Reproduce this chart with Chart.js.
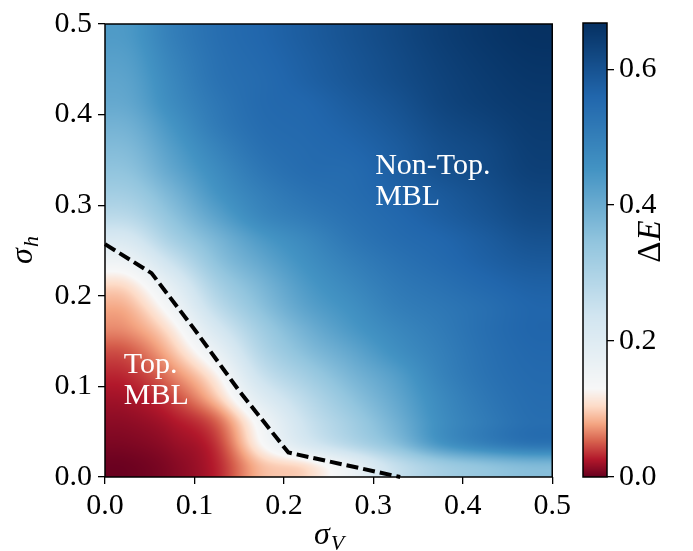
<!DOCTYPE html>
<html>
<head>
<meta charset="utf-8">
<script src="https://cdn.jsdelivr.net/npm/chart.js@4/dist/chart.umd.min.js"></script>
<style>
  html, body { margin: 0; padding: 0; background: #ffffff; }
  #wrap { position: relative; width: 693px; height: 551px; overflow: hidden; }
  #main { position: absolute; left: 0; top: 0; }
  #cbar { position: absolute; left: 575px; top: 0; }
</style>
</head>
<body>
<div id="wrap">
  <canvas id="main" width="575" height="551"></canvas>
  <canvas id="cbar" width="118" height="551"></canvas>
</div>
<script>
// Cell centres of the energy-gap map
const sigmaV = [0.025, 0.075, 0.125, 0.175, 0.225, 0.275, 0.325, 0.375, 0.425, 0.475];
const sigmaH = [0.4875, 0.4625, 0.4375, 0.4125, 0.3875, 0.3625, 0.3375, 0.3125, 0.2875, 0.2625,
                0.2375, 0.2125, 0.1875, 0.1625, 0.1375, 0.1125, 0.0875, 0.0625, 0.0375, 0.0125];

// Delta E, one row per sigmaH entry (top row first), one column per sigmaV entry
const deltaE = [
  [0.440, 0.500, 0.540, 0.560, 0.580, 0.600, 0.620, 0.640, 0.655, 0.665],
  [0.430, 0.490, 0.535, 0.555, 0.575, 0.595, 0.615, 0.635, 0.650, 0.660],
  [0.420, 0.480, 0.530, 0.550, 0.570, 0.590, 0.610, 0.630, 0.645, 0.655],
  [0.410, 0.470, 0.520, 0.550, 0.560, 0.580, 0.600, 0.625, 0.640, 0.650],
  [0.390, 0.450, 0.510, 0.545, 0.555, 0.570, 0.590, 0.615, 0.630, 0.645],
  [0.370, 0.430, 0.490, 0.535, 0.550, 0.560, 0.580, 0.605, 0.620, 0.640],
  [0.350, 0.410, 0.470, 0.520, 0.545, 0.550, 0.575, 0.600, 0.615, 0.635],
  [0.320, 0.380, 0.450, 0.500, 0.530, 0.545, 0.565, 0.585, 0.605, 0.625],
  [0.280, 0.350, 0.420, 0.480, 0.510, 0.535, 0.555, 0.575, 0.595, 0.615],
  [0.220, 0.310, 0.380, 0.440, 0.480, 0.520, 0.545, 0.560, 0.580, 0.600],
  [0.160, 0.250, 0.350, 0.410, 0.460, 0.500, 0.530, 0.550, 0.570, 0.585],
  [0.110, 0.190, 0.310, 0.380, 0.440, 0.480, 0.515, 0.535, 0.555, 0.570],
  [0.085, 0.150, 0.270, 0.355, 0.420, 0.460, 0.500, 0.520, 0.540, 0.560],
  [0.070, 0.115, 0.220, 0.320, 0.390, 0.440, 0.480, 0.510, 0.540, 0.560],
  [0.048, 0.090, 0.170, 0.290, 0.360, 0.410, 0.460, 0.500, 0.535, 0.555],
  [0.033, 0.065, 0.125, 0.250, 0.320, 0.380, 0.430, 0.490, 0.530, 0.550],
  [0.022, 0.042, 0.095, 0.200, 0.280, 0.350, 0.410, 0.475, 0.520, 0.545],
  [0.014, 0.025, 0.055, 0.150, 0.250, 0.320, 0.390, 0.465, 0.510, 0.540],
  [0.008, 0.016, 0.038, 0.130, 0.220, 0.290, 0.360, 0.450, 0.500, 0.530],
  [0.002, 0.010, 0.030, 0.090, 0.110, 0.170, 0.260, 0.320, 0.350, 0.370]
];

// Phase boundary (dashed)
const boundarySigmaV = [0.0, 0.052, 0.100, 0.150, 0.205, 0.330];
const boundarySigmaH = [0.257, 0.225, 0.163, 0.095, 0.027, 0.0];

// Axis ticks
const axisTicks = [0.0, 0.1, 0.2, 0.3, 0.4, 0.5];
const colorbarTicks = [0.0, 0.2, 0.4, 0.6];

// Colour normalisation: diverging around a centre value
const vMin = 0.0, vCenter = 0.13, vMax = 0.668;

const rdbu = ['#67001f', '#b2182b', '#d6604d', '#f4a582', '#fddbc7', '#f7f7f7',
              '#d1e5f0', '#92c5de', '#4393c3', '#2166ac', '#053061'];
const rdbuRGB = rdbu.map(h => [parseInt(h.slice(1, 3), 16), parseInt(h.slice(3, 5), 16), parseInt(h.slice(5, 7), 16)]);

function normalise(v) {
  if (v <= vCenter) return Math.max(0, 0.5 * (v - vMin) / (vCenter - vMin));
  return Math.min(1, 0.5 + 0.5 * (v - vCenter) / (vMax - vCenter));
}
function colourOf(v) {
  const p = normalise(v) * (rdbuRGB.length - 1);
  const i = Math.min(rdbuRGB.length - 2, Math.floor(p));
  const t = p - i;
  const a = rdbuRGB[i], b = rdbuRGB[i + 1];
  return [0, 1, 2].map(k => Math.round(a[k] + (b[k] - a[k]) * t));
}

// Catmull-Rom weights for bicubic resampling of the grid
function cubicWeights(t) {
  const t2 = t * t, t3 = t2 * t;
  return [
    (-t3 + 2 * t2 - t) / 2,
    (3 * t3 - 5 * t2 + 2) / 2,
    (-3 * t3 + 4 * t2 + t) / 2,
    (t3 - t2) / 2
  ];
}
function sampleGrid(fx, fy) {
  const nx = sigmaV.length, ny = sigmaH.length;
  const ix = Math.floor(fx), iy = Math.floor(fy);
  const wx = cubicWeights(fx - ix), wy = cubicWeights(fy - iy);
  let s = 0;
  for (let j = 0; j < 4; j++) {
    const r = Math.min(ny - 1, Math.max(0, iy - 1 + j));
    let row = 0;
    for (let i = 0; i < 4; i++) {
      const c = Math.min(nx - 1, Math.max(0, ix - 1 + i));
      row += wx[i] * deltaE[r][c];
    }
    s += wy[j] * row;
  }
  return s;
}

const serif = '"Liberation Serif", "Times New Roman", serif';
const tickFont = { family: serif, size: 30 };
const fmt = v => Number(v).toFixed(1);

// Paints the gap map under the datasets
const heatmapPlugin = {
  id: 'heatmap',
  beforeDatasetsDraw(chart) {
    const { ctx, chartArea, scales: { x, y } } = chart;
    const L = Math.round(chartArea.left), T = Math.round(chartArea.top);
    const W = Math.round(chartArea.right) - L, H = Math.round(chartArea.bottom) - T;
    const off = document.createElement('canvas');
    off.width = W; off.height = H;
    const octx = off.getContext('2d');
    const img = octx.createImageData(W, H);
    const dx = sigmaV[1] - sigmaV[0];
    const dy = sigmaH[0] - sigmaH[1];
    for (let py = 0; py < H; py++) {
      const vy = y.getValueForPixel(T + py + 0.5);
      const fy = (sigmaH[0] - vy) / dy;
      for (let px = 0; px < W; px++) {
        const vx = x.getValueForPixel(L + px + 0.5);
        const fx = (vx - sigmaV[0]) / dx;
        const [R, G, B] = colourOf(sampleGrid(fx, fy));
        const o = (py * W + px) * 4;
        img.data[o] = R; img.data[o + 1] = G; img.data[o + 2] = B; img.data[o + 3] = 255;
      }
    }
    octx.putImageData(img, 0, 0);
    ctx.drawImage(off, L, T);
  },
  afterDatasetsDraw(chart) {
    const { ctx, chartArea, scales: { x, y } } = chart;
    // phase labels
    ctx.save();
    ctx.fillStyle = '#ffffff';
    ctx.font = '30px ' + serif;
    ctx.textAlign = 'left';
    ctx.textBaseline = 'alphabetic';
    ctx.fillText('Non-Top.', x.getPixelForValue(0.302), y.getPixelForValue(0.334));
    ctx.fillText('MBL', x.getPixelForValue(0.302), y.getPixelForValue(0.300));
    ctx.fillText('Top.', x.getPixelForValue(0.021), y.getPixelForValue(0.115));
    ctx.fillText('MBL', x.getPixelForValue(0.021), y.getPixelForValue(0.081));
    ctx.restore();
    // frame
    ctx.save();
    ctx.strokeStyle = '#000';
    ctx.lineWidth = 1.5;
    ctx.strokeRect(chartArea.left, chartArea.top, chartArea.right - chartArea.left, chartArea.bottom - chartArea.top);
    ctx.restore();
  },
  afterDraw(chart) {
    const { ctx, chartArea } = chart;
    ctx.save();
    ctx.fillStyle = '#000';
    ctx.textBaseline = 'alphabetic';
    // x title: sigma_V
    const cx = (chartArea.left + chartArea.right) / 2;
    ctx.font = 'italic 32px ' + serif;
    const wS = ctx.measureText('σ').width;
    ctx.font = 'italic 22px ' + serif;
    const wV = ctx.measureText('V').width;
    const x0 = cx - (wS + wV) / 2;
    ctx.font = 'italic 32px ' + serif;
    ctx.fillText('σ', x0, 544);
    ctx.font = 'italic 22px ' + serif;
    ctx.fillText('V', x0 + wS + 1, 550);
    // y title: sigma_h
    const cy = (chartArea.top + chartArea.bottom) / 2;
    ctx.translate(32, cy);
    ctx.rotate(-Math.PI / 2);
    ctx.font = 'italic 32px ' + serif;
    const wS2 = ctx.measureText('σ').width;
    ctx.font = 'italic 22px ' + serif;
    const wH = ctx.measureText('h').width;
    const y0 = -(wS2 + wH) / 2;
    ctx.font = 'italic 32px ' + serif;
    ctx.fillText('σ', y0, 0);
    ctx.font = 'italic 22px ' + serif;
    ctx.fillText('h', y0 + wS2 + 1, 6);
    ctx.restore();
  }
};

const axisCommon = {
  type: 'linear',
  min: 0,
  max: 0.5,
  afterBuildTicks(scale) { scale.ticks = axisTicks.map(v => ({ value: v })); },
  ticks: { font: tickFont, color: '#000', callback: fmt, autoSkip: false, maxRotation: 0 },
  grid: { drawOnChartArea: false, drawTicks: true, tickLength: 7, color: '#000', lineWidth: 1.3 },
  border: { display: false }
};

new Chart(document.getElementById('main'), {
  type: 'scatter',
  data: {
    datasets: [{
      data: boundarySigmaV.map((v, i) => ({ x: v, y: boundarySigmaH[i] })),
      showLine: true,
      borderColor: '#000',
      borderWidth: 4,
      borderDash: [12, 5],
      pointRadius: 0,
      fill: false,
      tension: 0,
      clip: 4
    }]
  },
  options: {
    responsive: false,
    animation: false,
    devicePixelRatio: 1,
    layout: { padding: { left: 0, right: 20, top: 20, bottom: 0 } },
    plugins: { legend: { display: false }, tooltip: { enabled: false } },
    scales: {
      x: Object.assign({}, axisCommon, {
        position: 'bottom',
        ticks: Object.assign({}, axisCommon.ticks, { padding: 4 }),
        afterFit(scale) { scale.height = 74; }
      }),
      y: Object.assign({}, axisCommon, {
        position: 'left',
        ticks: Object.assign({}, axisCommon.ticks, { padding: 6 }),
        afterFit(scale) { scale.width = 105; }
      })
    }
  },
  plugins: [heatmapPlugin]
});

// Colour bar
const colorbarPlugin = {
  id: 'colorbar',
  beforeDatasetsDraw(chart) {
    const { ctx, chartArea, scales: { y } } = chart;
    ctx.save();
    for (let py = Math.floor(chartArea.top); py < Math.ceil(chartArea.bottom); py++) {
      const v = y.getValueForPixel(py + 0.5);
      const [R, G, B] = colourOf(v);
      ctx.fillStyle = `rgb(${R},${G},${B})`;
      ctx.fillRect(chartArea.left, py, chartArea.right - chartArea.left, 1);
    }
    ctx.strokeStyle = '#000';
    ctx.lineWidth = 1.5;
    ctx.strokeRect(chartArea.left, chartArea.top, chartArea.right - chartArea.left, chartArea.bottom - chartArea.top);
    ctx.restore();
  },
  afterDraw(chart) {
    const { ctx, chartArea } = chart;
    const cy = (chartArea.top + chartArea.bottom) / 2 - 8;
    ctx.save();
    ctx.fillStyle = '#000';
    ctx.translate(85, cy);
    ctx.rotate(-Math.PI / 2);
    ctx.textBaseline = 'alphabetic';
    ctx.font = '33px ' + serif;
    const wD = ctx.measureText('Δ').width;
    ctx.font = 'italic 33px ' + serif;
    const wE = ctx.measureText('E').width;
    const s0 = -(wD + wE) / 2;
    ctx.font = '33px ' + serif;
    ctx.fillText('Δ', s0, 0);
    ctx.font = 'italic 33px ' + serif;
    ctx.fillText('E', s0 + wD + 1, 0);
    ctx.restore();
  }
};

new Chart(document.getElementById('cbar'), {
  type: 'scatter',
  data: { datasets: [] },
  options: {
    responsive: false,
    animation: false,
    devicePixelRatio: 1,
    layout: { padding: { left: 8, right: 0, top: 20, bottom: 74 } },
    plugins: { legend: { display: false }, tooltip: { enabled: false } },
    scales: {
      x: { display: false, min: 0, max: 1 },
      y: {
        position: 'right',
        min: vMin,
        max: vMax,
        afterBuildTicks(scale) { scale.ticks = colorbarTicks.map(v => ({ value: v })); },
        ticks: { font: tickFont, color: '#000', callback: fmt, padding: 5, autoSkip: false },
        grid: { drawOnChartArea: false, drawTicks: true, tickLength: 7, color: '#000', lineWidth: 1.3 },
        border: { display: false },
        afterFit(scale) { scale.width = 86; }
      }
    }
  },
  plugins: [colorbarPlugin]
});
</script>
</body>
</html>
